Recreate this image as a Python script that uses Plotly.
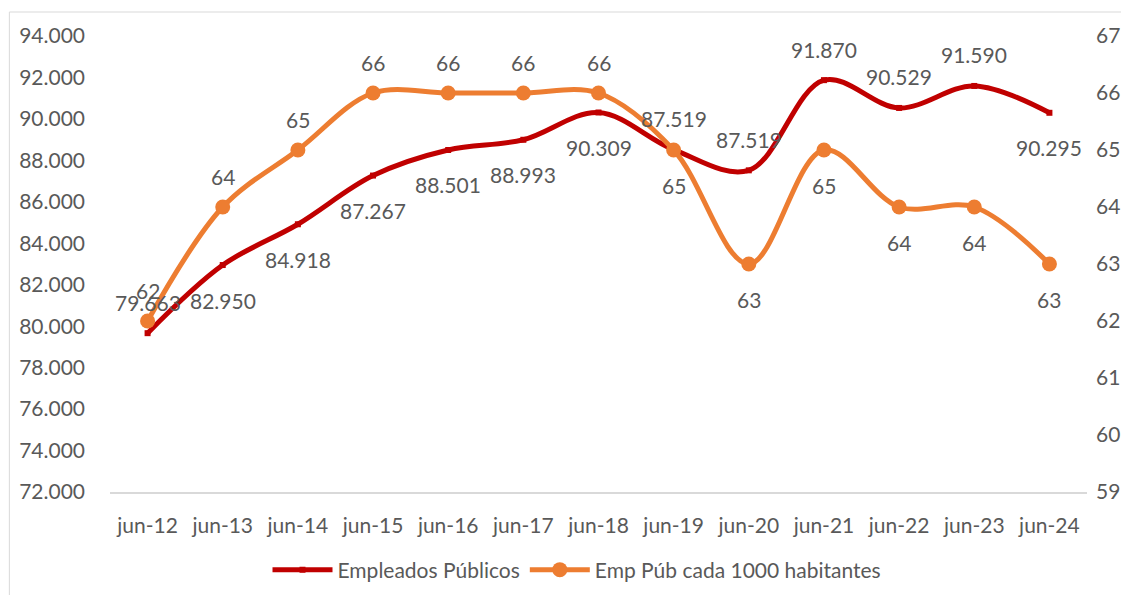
import plotly.graph_objects as go

meses = ["jun-12", "jun-13", "jun-14", "jun-15", "jun-16", "jun-17", "jun-18",
         "jun-19", "jun-20", "jun-21", "jun-22", "jun-23", "jun-24"]
empleados = [79663, 82950, 84918, 87267, 88501, 88993, 90309,
             88519, 87519, 91870, 90529, 91590, 90295]
# etiquetas tal como aparecen en el grafico original
etiquetas_emp = ["79.663", "82.950", "84.918", "87.267", "88.501", "88.993", "90.309",
                 "87.519", "87.519", "91.870", "90.529", "91.590", "90.295"]
cada_mil = [62, 64, 65, 66, 66, 66, 66, 65, 63, 65, 64, 64, 63]

# posicion de cada etiqueta: 1 arriba, -1 abajo
pos_emp = [1, -1, -1, -1, -1, -1, -1, 1, 1, 1, 1, 1, -1]
pos_hab = [1, 1, 1, 1, 1, 1, 1, -1, -1, -1, -1, -1, -1]

ROJO = "#C00000"
NARANJA = "#ED7D31"
GRIS = "#595959"
FUENTE = "Lato"

fig = go.Figure()
fig.add_trace(go.Scatter(
    x=meses, y=empleados, name="Empleados Públicos",
    mode="lines+markers", line=dict(color=ROJO, width=5, shape="spline"),
    marker=dict(symbol="square", size=6, color=ROJO),
))
fig.add_trace(go.Scatter(
    x=meses, y=cada_mil, name="Emp Púb cada 1000 habitantes", yaxis="y2",
    mode="lines+markers", line=dict(color=NARANJA, width=5, shape="spline"),
    marker=dict(symbol="circle", size=15, color=NARANJA),
))

for m, v, t, p in zip(meses, empleados, etiquetas_emp, pos_emp):
    fig.add_annotation(x=m, y=v, yref="y", text=t, showarrow=False,
                       yanchor="middle", yshift=31 if p > 0 else -35,
                       font=dict(family=FUENTE, size=21, color=GRIS))
for m, v, p in zip(meses, cada_mil, pos_hab):
    fig.add_annotation(x=m, y=v, yref="y2", text=str(v), showarrow=False,
                       yanchor="middle", yshift=31 if p > 0 else -35,
                       font=dict(family=FUENTE, size=21, color=GRIS))

# marco del area del grafico
fig.add_shape(type="rect", xref="paper", yref="paper",
              x0=-0.103, x1=1.3, y0=-0.6, y1=1.0526,
              line=dict(color="#D9D9D9", width=1), fillcolor="rgba(0,0,0,0)")

fig.update_layout(
    width=1121, height=587,
    margin=dict(l=102, r=42, t=28, b=103, autoexpand=False),
    paper_bgcolor="white", plot_bgcolor="white",
    separators=",.",
    font=dict(family=FUENTE, size=21, color=GRIS),
    showlegend=True,
    legend=dict(orientation="h", x=0.478, xanchor="center", y=-0.171, yanchor="middle",
                font=dict(family=FUENTE, size=21, color=GRIS), itemwidth=60),
    xaxis=dict(type="category", range=[-0.5, 12.5], showgrid=False, showline=True,
               linecolor="#D9D9D9", linewidth=2, ticks="", ticklabelstandoff=14,
               zeroline=False, automargin=False),
    yaxis=dict(range=[72000, 94000], dtick=2000, tickformat=",.0f", showgrid=False,
               zeroline=False, showline=False, ticks="", ticklabelstandoff=24,
               automargin=False),
    yaxis2=dict(range=[59, 67], dtick=1, overlaying="y", side="right", showgrid=False,
                zeroline=False, showline=False, ticks="", ticklabelstandoff=8,
                automargin=False),
)

fig.write_html("out.html")
